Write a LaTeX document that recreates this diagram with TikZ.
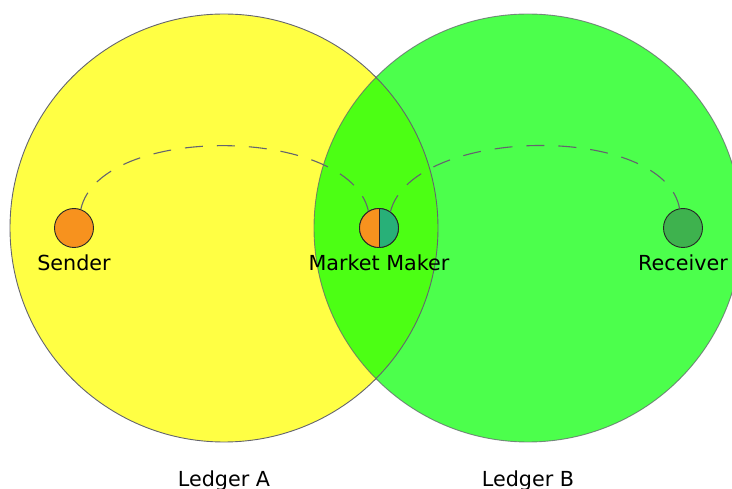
\documentclass[tikz,border=0pt]{standalone}
\usepackage{fontspec}
\setmainfont{DejaVu Sans}
\definecolor{ledgerA}{RGB}{255,255,68}
\definecolor{ledgerB}{RGB}{0,255,0}
\definecolor{edgegray}{RGB}{100,100,110}
\definecolor{orangeP}{RGB}{247,146,30}
\definecolor{tealP}{RGB}{40,176,120}
\definecolor{greenP}{RGB}{62,178,78}
\tikzset{
  ledgerline/.style={draw=edgegray, line width=0.9pt},
  party/.style={circle, draw=black!85, line width=0.9pt, minimum size=39pt, inner sep=0pt},
  lbl/.style={font=\fontsize{20.7}{24}\selectfont, anchor=base, inner sep=0pt},
  conn/.style={draw=edgegray, line width=1.1pt, dash pattern=on 18pt off 14pt},
}
\begin{document}
\begin{tikzpicture}[x=1pt,y=-1pt]
\useasboundingbox (0,0) rectangle (732,489);
% ledgers
\fill[ledgerA] (224,228) circle (214);
\fill[ledgerB, fill opacity=0.7] (528,228) circle (214);
\draw[ledgerline] (224,228) circle (214);
\draw[ledgerline, draw opacity=0.75] (528,228) circle (214);
% parties
\node[party, fill=orangeP] (sender) at (74,228) {};
\node[party, fill=greenP] (receiver) at (683,228) {};
\node[party] (mm) at (379,228) {};
\begin{scope}
  \clip (350,200) rectangle (379,256);
  \fill[orangeP] (mm.center) circle (19.5);
\end{scope}
\begin{scope}
  \clip (379,200) rectangle (408,256);
  \fill[tealP] (mm.center) circle (19.5);
\end{scope}
\draw[black!85, line width=0.9pt] (mm.north) -- (mm.south);
\draw[black!85, line width=0.9pt] (mm.center) circle (19.5);
% labels
\node[lbl] (lsender) at (74,271) {Sender};
\node[lbl] (lmm) at (379,271) {Market Maker};
\node[lbl] (lreceiver) at (683,271) {Receiver};
\node[lbl] (la) at (224,486) {Ledger A};
\node[lbl] (lb) at (528,486) {Ledger B};
% connectors
\draw[conn] (sender.70) .. controls +(19,-86) and +(-19,-86) .. (mm.122);
\draw[conn] (mm.55) .. controls +(22,-86) and +(-16,-86) .. (receiver.100);
\end{tikzpicture}
\end{document}
